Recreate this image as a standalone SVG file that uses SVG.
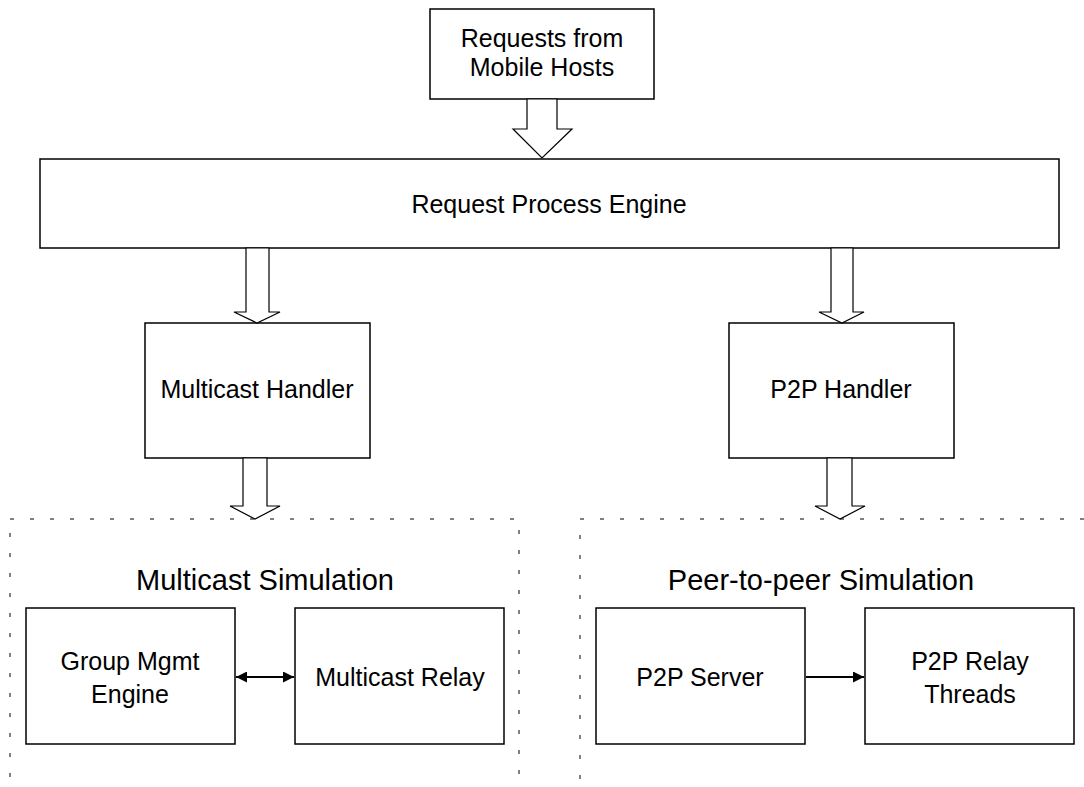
<svg xmlns="http://www.w3.org/2000/svg" width="1084" height="787" viewBox="0 0 1084 787">
<style>
.box{fill:#fff;stroke:#000;stroke-width:1.5}
.blk{fill:#fff;stroke:#000;stroke-width:1.2}
.grp{fill:none;stroke:#808080;stroke-width:2;stroke-dasharray:4 16}
.t{font-family:"Liberation Sans",Arial,sans-serif;font-size:25px;fill:#000;text-anchor:middle}
.title{font-family:"Liberation Sans",Arial,sans-serif;font-size:29px;fill:#000;text-anchor:middle}
.ln{stroke:#000;stroke-width:2.2;fill:none}
</style>
<defs>
<marker id="ah" viewBox="0 0 10 10" refX="10" refY="5" markerWidth="6" markerHeight="5" orient="auto-start-reverse" markerUnits="strokeWidth">
<path d="M0,0 L10,5 L0,10 z" fill="#000"/>
</marker>
</defs>
<rect width="1084" height="787" fill="#fff"/>
<g id="multicast-sim">
<rect class="grp" x="10" y="519" width="509" height="300"/>
<text class="title" x="265" y="590">Multicast Simulation</text>
</g>
<g id="p2p-sim">
<rect class="grp" x="580" y="519" width="540" height="300"/>
<text class="title" x="821" y="590">Peer-to-peer Simulation</text>
</g>
<g id="requests">
<rect class="box" x="430" y="9" width="224" height="90"/>
<text class="t" x="542" y="47">Requests from</text>
<text class="t" x="542" y="76">Mobile Hosts</text>
</g>
<g id="engine">
<rect class="box" x="40" y="159" width="1019" height="89"/>
<text class="t" x="549" y="213">Request Process Engine</text>
</g>
<g id="mc-handler">
<rect class="box" x="145" y="323" width="225" height="135"/>
<text class="t" x="257" y="398">Multicast Handler</text>
</g>
<g id="p2p-handler">
<rect class="box" x="729" y="323" width="225" height="135"/>
<text class="t" x="841" y="398">P2P Handler</text>
</g>
<g id="group-mgmt">
<rect class="box" x="26" y="608" width="209" height="136"/>
<text class="t" x="130" y="670">Group Mgmt</text>
<text class="t" x="130" y="703">Engine</text>
</g>
<g id="mc-relay">
<rect class="box" x="295" y="608" width="209" height="136"/>
<text class="t" x="400" y="686">Multicast Relay</text>
</g>
<g id="p2p-server">
<rect class="box" x="596" y="608" width="209" height="136"/>
<text class="t" x="700" y="686">P2P Server</text>
</g>
<g id="p2p-relay">
<rect class="box" x="865" y="608" width="209" height="136"/>
<text class="t" x="970" y="670">P2P Relay</text>
<text class="t" x="970" y="703">Threads</text>
</g>
<g id="connectors">
<polygon class="blk" points="527,99 527,129 513,129 542,158 572,129 557,129 557,99"/>
<polygon class="blk" points="246,248 246,312 234,312 257,323 280,312 269,312 269,248"/>
<polygon class="blk" points="831,248 831,312 819,312 842,323 864,312 853,312 853,248"/>
<polygon class="blk" points="243,458 243,506 230,506 255,519 280,506 267,506 267,458"/>
<polygon class="blk" points="827,458 827,506 815,506 840,519 865,506 852,506 852,458"/>
<line class="ln" x1="236" y1="677" x2="294" y2="677" marker-start="url(#ah)" marker-end="url(#ah)"/>
<line class="ln" x1="806" y1="677" x2="864" y2="677" marker-end="url(#ah)"/>
</g>
</svg>
